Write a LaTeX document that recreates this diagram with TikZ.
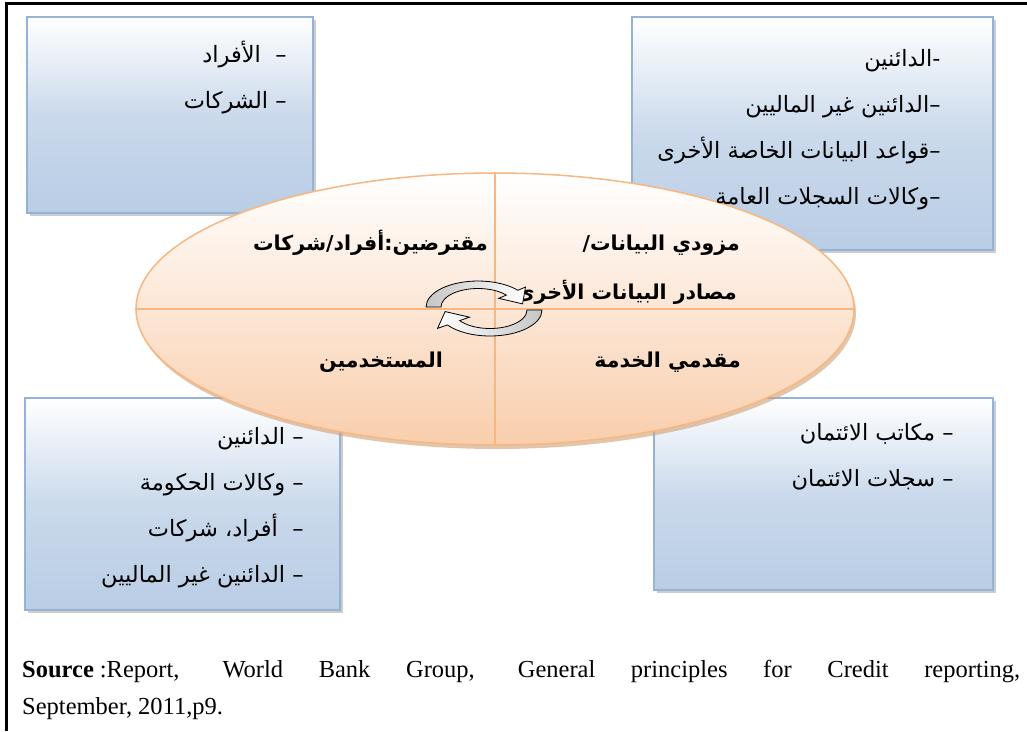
\documentclass[tikz,border=0pt]{standalone}
\usepackage{fontspec}
\setmainfont{Liberation Serif}
\newfontfamily\arabicfont[Script=Arabic]{DejaVu Sans}
\TeXXeTstate=1
\usetikzlibrary{positioning, shapes.geometric, shadows}

\definecolor{boxblue}{RGB}{185,205,229}
\definecolor{boxline}{RGB}{149,179,215}
\definecolor{peach}{RGB}{249,206,172}
\definecolor{peachline}{RGB}{248,182,128}
\definecolor{peachshadow}{RGB}{205,160,120}

% one right-to-left line
\newcommand{\ar}[1]{\beginR #1\endR}

\tikzset{
  listbox/.style={draw=boxline, line width=1.5pt, shading=axis, top color=white,
    bottom color=boxblue, middle color=boxblue!75!white, inner sep=0pt,
    drop shadow={shadow xshift=3pt, shadow yshift=-3pt, fill=black!40}},
  listtext/.style={inner sep=0pt, align=right, font=\arabicfont\fontsize{22.5}{46}\selectfont},
  parttext/.style={inner sep=0pt, font=\arabicfont\bfseries\fontsize{20.5}{24}\selectfont},
  turn/.style={draw=black, line width=0.8pt, shading=axis, shading angle=90}
}

\begin{document}
\begin{tikzpicture}[x=1pt, y=-1pt]
\useasboundingbox (0,0) rectangle (1027,731);

% the four lists
\node[listbox, minimum width=286pt, minimum height=196pt] (borrowers) at (170,115) {};
\node[listbox, minimum width=361pt, minimum height=233pt] (providers) at (812.5,133.5) {};
\node[listbox, minimum width=315pt, minimum height=212pt] (users) at (182.5,504) {};
\node[listbox, minimum width=339pt, minimum height=192pt] (services) at (823.5,494) {};

% the oval with its four parts
\node[ellipse, minimum width=718pt, minimum height=272pt, inner sep=0pt,
  draw=peachline, line width=1.5pt, shading=axis, top color=white, bottom color=peach,
  drop shadow={shadow xshift=2pt, shadow yshift=-4pt, fill=peachshadow, opacity=0.6}]
  (cycle) at (495,309) {};
\draw[peachline, line width=1.5pt] (cycle.north) -- (cycle.south);
\draw[peachline, line width=1.5pt] (cycle.west) -- (cycle.east);

\node[listtext, below left=25pt and 27pt of borrowers.north east] (borrowersitems)
  {\ar{– \ الأفراد}\\ \ar{– الشركات}};
\node[listtext, below left=33pt and 53pt of providers.north east] (providersitems)
  {\ar{-الدائنين}\\ \ar{–الدائنين غير الماليين}\\ \ar{–قواعد البيانات الخاصة الأخرى}\\ \ar{–وكالات السجلات العامة}};
\node[listtext, below left=30pt and 37pt of users.north east] (usersitems)
  {\ar{– الدائنين}\\ \ar{– وكالات الحكومة}\\ \ar{– \ أفراد، شركات}\\ \ar{– الدائنين غير الماليين}};
\node[listtext, below left=26pt and 40pt of services.north east] (servicesitems)
  {\ar{– مكاتب الائتمان}\\ \ar{– سجلات الائتمان}};

\node[parttext, anchor=east] (borrowerslabel) at (488,243) {\ar{مقترضين:أفراد/شركات}};
\node[parttext, anchor=east] (providerslabel) at (740,245) {\ar{مزودي البيانات/}};
\node[parttext, anchor=east] (sourceslabel) at (737,292) {\ar{مصادر البيانات الأخرى}};
\node[parttext] (userslabel) at (381,362) {\ar{المستخدمين}};
\node[parttext, anchor=east] (serviceslabel) at (741,362) {\ar{مقدمي الخدمة}};

% turning arrows in the middle
\begin{scope}[shift={(478,307)}, x=1pt, y=0.5pt]
\path[turn, left color=gray!45, right color=white]
  (180:52) arc[start angle=180, end angle=40, radius=52] -- (40:62) -- (8:45)
  -- (40:27) -- (40:37) arc[start angle=40, end angle=180, radius=37] -- cycle;
\end{scope}
\begin{scope}[shift={(490,310)}, x=1pt, y=0.5pt]
\path[turn, left color=white, right color=gray!45]
  (0:52) arc[start angle=0, end angle=-145, radius=52] -- (-145:64) -- (-176:45)
  -- (-145:25) -- (-145:37) arc[start angle=-145, end angle=0, radius=37] -- cycle;
\end{scope}

\node[text width=998pt, align=justify, inner sep=0pt, anchor=north west,
  font=\fontsize{24.5}{37}\selectfont] (source) at (22,660)
  {\noindent\textbf{Source}\hspace{6pt}:Report, World Bank Group, General principles for Credit reporting,\linebreak September, 2011,p9.};

\draw[line width=2.5pt] (1027,3.5) -- (6.5,3.5) -- (6.5,731);
\end{tikzpicture}
\end{document}
